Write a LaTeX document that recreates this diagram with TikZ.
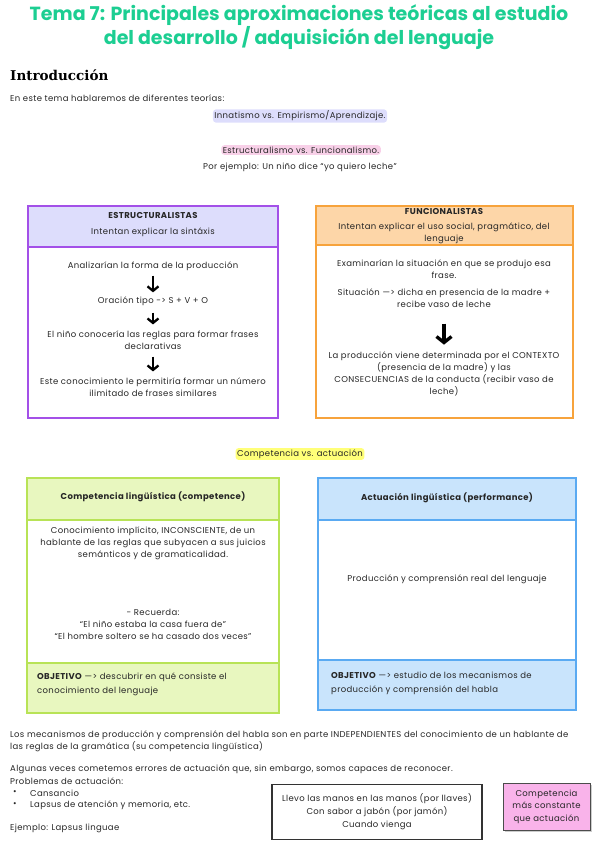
\documentclass[tikz,border=0pt]{standalone}
\usepackage{fontspec}
\setmainfont{Poppins}[LetterSpace=4]
\newfontfamily\titlefont{Poppins}
\newfontfamily\slab{DejaVu Serif}
\usetikzlibrary{arrows.meta,shadows}
\definecolor{titlegreen}{RGB}{28,206,146}
\definecolor{lav}{RGB}{221,221,252}
\definecolor{purp}{RGB}{163,80,232}
\definecolor{peach}{RGB}{253,214,168}
\definecolor{orng}{RGB}{247,163,60}
\definecolor{lime}{RGB}{232,247,191}
\definecolor{limeb}{RGB}{184,227,86}
\definecolor{skyf}{RGB}{201,228,252}
\definecolor{skyb}{RGB}{90,170,242}
\definecolor{pinkhl}{RGB}{248,208,232}
\definecolor{yelhl}{RGB}{255,255,120}
\definecolor{pinkbox}{RGB}{249,179,234}
\begin{document}
\begin{tikzpicture}[x=1pt,y=-1pt,
  txt/.style={font=\fontsize{8.5}{12}\selectfont, inner sep=0pt, align=center, text=black!85},
  ltxt/.style={txt, anchor=west, align=left},
  hl/.style={txt, inner sep=1.5pt, rounded corners=3pt},
  head/.style={txt, font=\fontsize{8.5}{12}\selectfont\bfseries},
  arr/.style={line width=2.3pt, -{Straight Barb[length=4.5pt,width=11pt]}},
  bigarr/.style={line width=3.3pt, -{Straight Barb[length=6pt,width=15pt]}},
  boxline/.style={line width=1.3pt}]
\useasboundingbox (0,0) rectangle (599,848);

% title
\node[inner sep=0pt, align=center, text=titlegreen, font=\titlefont\fontsize{19}{18.5}\selectfont\bfseries] (title) at (299,27)
  {Tema 7: Principales aproximaciones teóricas al estudio\\del desarrollo / adquisición del lenguaje};
\node[anchor=west, inner sep=0pt, font=\slab\fontsize{13.5}{14}\selectfont\bfseries] (intro) at (10,75) {Introducción};
\node[ltxt] (t1) at (10,98) {En este tema hablaremos de diferentes teorías:};
\node[hl, fill=lav] (t2) at (300,116) {Innatismo vs. Empirismo/Aprendizaje.};
\node[hl, fill=pinkhl] (t3) at (301,150) {Estructuralismo vs. Funcionalismo.};
\node[txt] (t4) at (300,167) {Por ejemplo: Un niño dice “yo quiero leche”};

% Estructuralistas box
\draw[boxline, draw=purp] (28,206) rectangle (278,418);
\draw[boxline, draw=purp, fill=lav] (28,206) rectangle (278,247);
\node[head] (eh) at (153,216) {ESTRUCTURALISTAS};
\node[txt] (es) at (153,232) {Intentan explicar la sintáxis};
\node[txt] (a1) at (153,266) {Analizarían la forma de la producción};
\node[txt] (a2) at (153,301) {Oración tipo -> S + V + O};
\node[txt] (a3) at (153,340) {El niño conocería las reglas para formar frases\\declarativas};
\node[txt] (a4) at (153,387) {Este conocimiento le permitiría formar un número\\ilimitado de frases similares};
\draw[arr, shorten <=5pt, shorten >=4pt] (a1.south) -- (a2.north);
\draw[arr, shorten <=7pt, shorten >=6pt] (a2.south) -- (a3.north);
\draw[arr, shorten <=7pt, shorten >=6pt] (a3.south) -- (a4.north);

% Funcionalistas box
\draw[boxline, draw=orng] (316,206) rectangle (573,418);
\draw[boxline, draw=orng, fill=peach] (316,206) rectangle (573,245);
\node[head] (fh) at (444,212) {FUNCIONALISTAS};
\node[txt] (fs) at (444,233.5) {Intentan explicar el uso social, pragmático, del\\lenguaje};
\node[txt] (b1) at (444,269.5) {Examinarían la situación en que se produjo esa\\frase.};
\node[txt] (b2) at (444,298) {Situación —> dicha en presencia de la madre +\\recibe vaso de leche};
\node[txt] (b3) at (444,374) {La producción viene determinada por el CONTEXTO\\(presencia de la madre) y las\\CONSECUENCIAS de la conducta (recibir vaso de\\leche)};
\draw[bigarr, shorten <=16pt, shorten >=7pt] (b2.south) -- (b3.north);

\node[hl, fill=yelhl] (t5) at (300,454) {Competencia vs. actuación};

% Competencia box
\draw[boxline, draw=limeb] (27,478) rectangle (279,713);
\draw[boxline, draw=limeb, fill=lime] (27,478) rectangle (279,520);
\draw[boxline, draw=limeb, fill=lime] (27,663) rectangle (279,713);
\node[head] (ch) at (153,497) {Competencia lingüística (competence)};
\node[txt] (c1) at (153,543) {Conocimiento implícito, INCONSCIENTE, de un\\hablante de las reglas que subyacen a sus juicios\\semánticos y de gramaticalidad.};
\node[txt] (c2) at (153,624) {- Recuerda:\\“El niño estaba la casa fuera de”\\“El hombre soltero se ha casado dos veces”};
\node[ltxt, font=\fontsize{8.5}{14}\selectfont] (c3) at (37,684) {\textbf{OBJETIVO} —> descubrir en qué consiste el\\conocimiento del lenguaje};

% Actuacion box
\draw[boxline, draw=skyb] (318,478) rectangle (576,710);
\draw[boxline, draw=skyb, fill=skyf] (318,478) rectangle (576,520);
\draw[boxline, draw=skyb, fill=skyf] (318,660) rectangle (576,710);
\node[head] (dh) at (447,498) {Actuación lingüística (performance)};
\node[txt] (d1) at (447,579) {Producción y comprensión real del lenguaje};
\node[ltxt, font=\fontsize{8.5}{14}\selectfont] (d2) at (331,683) {\textbf{OBJETIVO} —> estudio de los mecanismos de\\producción y comprensión del habla};

% bottom text
\node[ltxt] (p1) at (10,741) {Los mecanismos de producción y comprensión del habla son en parte INDEPENDIENTES del conocimiento de un hablante de\\las reglas de la gramática (su competencia lingüística)};
\node[ltxt] (p2) at (10,769) {Algunas veces cometemos errores de actuación que, sin embargo, somos capaces de reconocer.};
\node[ltxt] (p3) at (10,781) {Problemas de actuación:};
\node[ltxt] (bu1) at (13,793) {•};
\node[ltxt] (p4) at (30,793) {Cansancio};
\node[ltxt] (bu2) at (13,805) {•};
\node[ltxt] (p5) at (30,805) {Lapsus de atención y memoria, etc.};
\node[ltxt] (p6) at (10,828) {Ejemplo: Lapsus linguae};

\node[txt, font=\fontsize{8.5}{13}\selectfont, draw=black!80, line width=1.2pt, minimum width=210pt, minimum height=55pt] (ex) at (377,812)
  {Llevo las manos en las manos (por llaves)\\Con sabor a jabón (por jamón)\\Cuando vienga};
\node[txt, font=\fontsize{8.5}{12.5}\selectfont, draw=black!70, fill=pinkbox, line width=1pt, minimum width=87pt, minimum height=47pt, drop shadow={shadow xshift=1.5pt, shadow yshift=-1.5pt, opacity=0.4}] (pk) at (546.5,806.5)
  {Competencia\\más constante\\que actuación};
\end{tikzpicture}
\end{document}
